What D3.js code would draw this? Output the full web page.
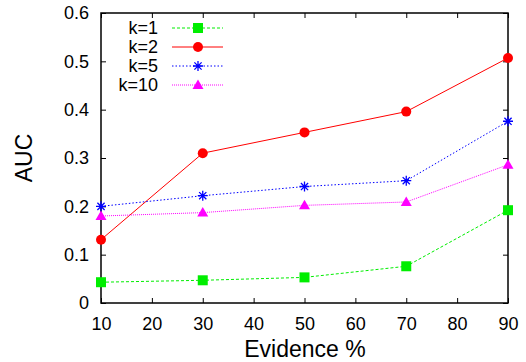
<!doctype html>
<html>
<head>
<style>
    body { margin: 0; background: #fff; }
    text { font-family: "Liberation Sans", Arial, sans-serif; fill: #000; }
</style>
</head>
<body>
<div id="chart"></div>
<script src="https://d3js.org/d3.v7.min.js"></script>
<script>
    // data
    var evidence = [10, 30, 50, 70, 90];
    var k1  = [0.043, 0.047, 0.053, 0.076, 0.192];
    var k2  = [0.131, 0.310, 0.353, 0.396, 0.507];
    var k5  = [0.200, 0.222, 0.241, 0.253, 0.376];
    var k10 = [0.180, 0.187, 0.202, 0.209, 0.286];
    var seriesNames = ["k=1", "k=2", "k=5", "k=10"];
    var xTicks = [10, 20, 30, 40, 50, 60, 70, 80, 90];
    var yTicks = [0, 0.1, 0.2, 0.3, 0.4, 0.5, 0.6];

    var series = [
        {name: seriesNames[0], values: k1,  color: "#00ee00", dash: "3,2",   shape: "square"},
        {name: seriesNames[1], values: k2,  color: "#ff0000", dash: null,    shape: "circle"},
        {name: seriesNames[2], values: k5,  color: "#0000ff", dash: "1.5,2", shape: "star"},
        {name: seriesNames[3], values: k10, color: "#ff00ff", dash: "1,1",   shape: "triangle"}
    ];

    var W = 526, H = 362;
    var margin = {top: 13, right: 18, bottom: 59, left: 101};
    var width = W - margin.left - margin.right,
        height = H - margin.top - margin.bottom;

    var svg = d3.select("#chart").append("svg")
        .attr("width", W)
        .attr("height", H);

    var g = svg.append("g")
        .attr("transform", "translate(" + margin.left + "," + margin.top + ")");

    var x = d3.scaleLinear().domain([10, 90]).range([0, width]);
    var y = d3.scaleLinear().domain([0, 0.6]).range([height, 0]);

    // axes, ticks pointing inward, mirrored on top/right
    var tick = 5;
    g.append("g")
        .attr("transform", "translate(0," + height + ")")
        .call(d3.axisBottom(x).tickValues(xTicks).tickSizeInner(-tick).tickSizeOuter(0).tickPadding(14))
        .call(function(a) { a.selectAll("text").attr("font-size", "18px"); });
    g.append("g")
        .call(d3.axisTop(x).tickValues(xTicks).tickSizeInner(-tick).tickSizeOuter(0).tickFormat(""));
    g.append("g")
        .call(d3.axisLeft(y).tickValues(yTicks).tickSizeInner(-tick).tickSizeOuter(0).tickPadding(12)
            .tickFormat(function(d) { return d === 0 ? "0" : d3.format(".1f")(d); }))
        .call(function(a) { a.selectAll("text").attr("font-size", "18px"); });
    g.append("g")
        .attr("transform", "translate(" + width + ",0)")
        .call(d3.axisRight(y).tickValues(yTicks).tickSizeInner(-tick).tickSizeOuter(0).tickFormat(""));
    g.selectAll(".domain").remove();
    g.selectAll(".tick line").attr("stroke", "#000");

    g.append("rect")
        .attr("width", width)
        .attr("height", height)
        .attr("fill", "none")
        .attr("stroke", "#000")
        .attr("stroke-width", 1.5);

    // axis titles
    svg.append("text")
        .attr("x", 305)
        .attr("y", 357)
        .attr("text-anchor", "middle")
        .attr("font-size", "23px")
        .text("Evidence %");
    svg.append("text")
        .attr("transform", "translate(32,158) rotate(-90)")
        .attr("text-anchor", "middle")
        .attr("font-size", "23px")
        .text("AUC");

    function drawMarker(sel, shape, color) {
        if (shape === "square") {
            sel.append("rect").attr("x", -5).attr("y", -5).attr("width", 10).attr("height", 10).attr("fill", color);
        } else if (shape === "circle") {
            sel.append("circle").attr("r", 5).attr("fill", color);
        } else if (shape === "triangle") {
            sel.append("path").attr("d", "M0,-5.5L5.5,4L-5.5,4Z").attr("fill", color);
        } else {
            var s = 5;
            sel.append("path")
                .attr("d", "M" + (-s) + ",0H" + s + "M0," + (-s) + "V" + s +
                    "M" + (-s*0.72) + "," + (-s*0.72) + "L" + (s*0.72) + "," + (s*0.72) +
                    "M" + (-s*0.72) + "," + (s*0.72) + "L" + (s*0.72) + "," + (-s*0.72))
                .attr("stroke", color).attr("stroke-width", 1.3).attr("fill", "none");
        }
    }

    var line = d3.line()
        .x(function(d, i) { return x(evidence[i]); })
        .y(function(d) { return y(d); });

    series.forEach(function(s) {
        g.append("path")
            .datum(s.values)
            .attr("fill", "none")
            .attr("stroke", s.color)
            .attr("stroke-width", 1)
            .attr("stroke-dasharray", s.dash)
            .attr("d", line);
        s.values.forEach(function(v, i) {
            var m = g.append("g").attr("transform", "translate(" + x(evidence[i]) + "," + y(v) + ")");
            drawMarker(m, s.shape, s.color);
        });
    });

    // legend
    series.forEach(function(s, i) {
        var ly = 28 + i * 19;
        svg.append("text")
            .attr("x", 158)
            .attr("y", ly)
            .attr("dy", "0.35em")
            .attr("text-anchor", "end")
            .attr("font-size", "18px")
            .text(s.name);
        svg.append("line")
            .attr("x1", 172).attr("x2", 223)
            .attr("y1", ly).attr("y2", ly)
            .attr("stroke", s.color)
            .attr("stroke-width", 1)
            .attr("stroke-dasharray", s.dash);
        var m = svg.append("g").attr("transform", "translate(198," + ly + ")");
        drawMarker(m, s.shape, s.color);
    });
</script>
</body>
</html>
